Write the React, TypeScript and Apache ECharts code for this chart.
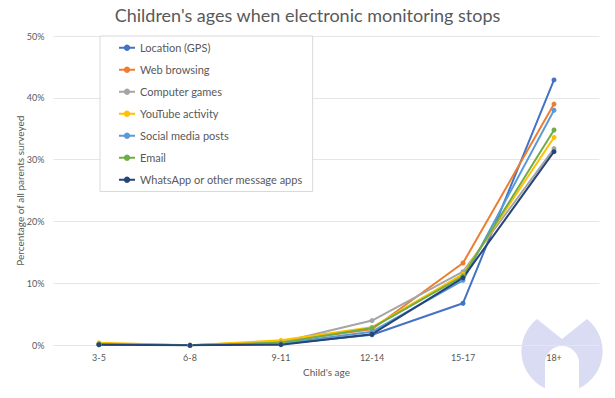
import React, { useEffect, useRef } from "react";
import * as echarts from "echarts";

const categories = ["3-5", "6-8", "9-11", "12-14", "15-17", "18+"];
const seriesNames = [
  "Location (GPS)",
  "Web browsing",
  "Computer games",
  "YouTube activity",
  "Social media posts",
  "Email",
  "WhatsApp or other message apps",
];
const location = [0.1, 0.0, 0.2, 1.7, 6.8, 42.9];
const web = [0.2, 0.0, 0.6, 2.6, 13.3, 39.0];
const computer = [0.2, 0.0, 0.5, 4.0, 11.9, 31.8];
const youtube = [0.4, 0.0, 0.8, 2.9, 11.5, 33.6];
const social = [0.1, 0.0, 0.3, 2.2, 10.5, 38.0];
const email = [0.2, 0.0, 0.4, 2.8, 11.2, 34.8];
const whatsapp = [0.1, 0.0, 0.1, 1.8, 10.9, 31.3];
const seriesValues = [location, web, computer, youtube, social, email, whatsapp];
const colors = ["#4472C4", "#ED7D31", "#A5A5A5", "#FFC000", "#5B9BD5", "#70AD47", "#264478"];

const FONT = "Lato";
const TEXT = "#595959";

const logoPath =
  "M -25 -32 L 0 -12 L 25 -32 A 41 41 0 0 1 17 37.3 L 17 12 A 17 17 0 0 0 -17 12 L -17 37.3 A 41 41 0 0 1 -25 -32 Z";
echarts.graphic.registerShape("logo", echarts.graphic.extendPath(logoPath, {}) as any);

export default function App() {
  const ref = useRef<HTMLDivElement>(null);
  useEffect(() => {
    const chart = echarts.init(ref.current!, null, { renderer: "svg" });
    chart.setOption({
      animation: false,
      textStyle: { fontFamily: FONT },
      title: {
        text: "Children's ages when electronic monitoring stops",
        left: "center",
        top: 1,
        textStyle: { fontFamily: FONT, fontSize: 18, fontWeight: "normal", color: TEXT },
      },
      graphic: [
        {
          type: "logo",
          x: 562,
          y: 351,
          z: -10,
          silent: true,
          style: { fill: "#dadcf3" },
        },
      ],
      legend: {
        orient: "vertical",
        left: 100,
        top: 36,
        backgroundColor: "#ffffff",
        borderColor: "#d9d9d9",
        borderWidth: 1,
        padding: [5, 10, 5, 18],
        itemWidth: 16,
        itemHeight: 8,
        itemGap: 8.5,
        z: 10,
        textStyle: { fontFamily: FONT, fontSize: 11, color: TEXT, lineHeight: 13.5 },
        data: seriesNames,
      },
      grid: { left: 53.5, right: 15.5, top: 36, bottom: 52.7 },
      xAxis: {
        type: "category",
        data: categories,
        boundaryGap: true,
        name: "Child's age",
        nameLocation: "middle",
        nameGap: 22,
        nameMoveOverlap: false,
        nameTextStyle: { fontFamily: FONT, fontSize: 10, color: TEXT },
        axisLine: { show: false },
        axisTick: { show: false },
        axisLabel: { fontFamily: FONT, fontSize: 9, color: TEXT, margin: 8 },
      },
      yAxis: {
        type: "value",
        min: 0,
        max: 50,
        interval: 10,
        name: "Percentage of all parents surveyed",
        nameLocation: "middle",
        nameGap: 29,
        nameMoveOverlap: false,
        nameTextStyle: { fontFamily: FONT, fontSize: 10, color: TEXT },
        axisLabel: { formatter: "{value}%", fontFamily: FONT, fontSize: 9, color: TEXT, margin: 9 },
        splitLine: { lineStyle: { color: "#e6e6e6", width: 1 } },
        axisLine: { show: false },
        axisTick: { show: false },
      },
      series: seriesNames.map((name, i) => ({
        name,
        type: "line",
        data: seriesValues[i],
        color: colors[i],
        symbol: "circle",
        symbolSize: 5,
        lineStyle: { width: 2 },
        z: 3,
      })),
    });
    return () => chart.dispose();
  }, []);
  return <div ref={ref} style={{ width: 615, height: 398, position: "absolute", left: 0, top: 0 }} />;
}
